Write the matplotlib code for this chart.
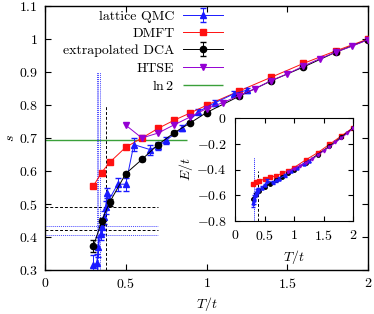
import numpy as np
import matplotlib
matplotlib.use("Agg")
import matplotlib.pyplot as plt
from matplotlib.ticker import FuncFormatter, FixedLocator

plt.rcParams['font.family'] = 'serif'
plt.rcParams['font.serif'] = ['cmr10', 'DejaVu Serif']
plt.rcParams['mathtext.fontset'] = 'cm'
plt.rcParams['axes.formatter.use_mathtext'] = True
plt.rcParams['font.size'] = 10

# ---------------- data (main panel: entropy s vs T/t) ----------------
qmc_T = [0.30, 0.32, 0.33, 0.345, 0.35, 0.365, 0.375, 0.385, 0.395, 0.45, 0.50,
         0.55, 0.65, 0.70, 0.75, 0.85, 0.95, 1.05, 1.17, 1.25]
qmc_s = [0.315, 0.32, 0.37, 0.41, 0.43, 0.46, 0.49, 0.533, 0.512, 0.56, 0.56,
         0.68, 0.665, 0.675, 0.693, 0.73, 0.78, 0.806, 0.834, 0.845]
qmc_err = [0.03, 0.03, 0.03, 0.02, 0.02, 0.02, 0.02, 0.015, 0.015, 0.02, 0.02,
           0.02, 0.015, 0.012, 0.01, 0.008, 0.008, 0.008, 0.008, 0.008]

dmft_T = [0.3, 0.35, 0.4, 0.5, 0.6, 0.7, 0.8, 0.9, 1.0, 1.2, 1.4, 1.6, 1.8, 2.0]
dmft_s = [0.555, 0.595, 0.626, 0.672, 0.70, 0.729, 0.754, 0.776, 0.799, 0.842,
          0.884, 0.926, 0.964, 1.0]

dca_T = [0.3, 0.35, 0.4, 0.5, 0.6, 0.7, 0.8, 0.9, 1.0, 1.2, 1.4, 1.6, 1.8, 2.0]
dca_s = [0.372, 0.447, 0.505, 0.592, 0.635, 0.68, 0.716, 0.746, 0.777, 0.826,
         0.873, 0.915, 0.96, 0.998]
dca_err = [0.018, 0.01, 0.01, 0.006, 0.005, 0.005, 0.005, 0.005, 0.005, 0.004,
           0.004, 0.004, 0.004, 0.004]

htse_T = [0.5, 0.6, 0.7, 0.8, 0.9, 1.0, 1.1, 1.2, 1.3, 1.4, 1.5, 1.6, 1.7, 1.8, 1.9, 2.0]
htse_s = [0.739, 0.70, 0.715, 0.74, 0.764, 0.789, 0.807, 0.828, 0.849, 0.874,
          0.894, 0.918, 0.94, 0.96, 0.978, 0.998]

ln2_range = [0.0, 0.88]
qmc_TN = [0.323, 0.331, 0.339]       # blue dotted verticals
dca_TN = [0.38]                      # black dashed vertical
qmc_sN = [0.434, 0.405]              # blue dotted horizontals
dca_sN = [0.49, 0.42]                # black dashed horizontals

# ---------------- data (inset: energy E/t vs T/t) ----------------
qmc_E = [-0.66, -0.64, -0.62, -0.60, -0.59, -0.575, -0.565, -0.56, -0.555, -0.54,
         -0.52, -0.49, -0.50, -0.485, -0.47, -0.445, -0.41, -0.385, -0.355, -0.335]
qmc_Eerr = [0.03, 0.03, 0.02, 0.015, 0.01, 0.01, 0.01, 0.01, 0.01, 0.01,
            0.01, 0.02, 0.01, 0.01, 0.01, 0.01, 0.01, 0.005, 0.005, 0.005]
dmft_E = [-0.51, -0.50, -0.49, -0.475, -0.46, -0.448, -0.43, -0.41, -0.385,
          -0.325, -0.27, -0.205, -0.14, -0.075]
dca_E = [-0.63, -0.59, -0.565, -0.535, -0.51, -0.485, -0.46, -0.43, -0.40,
         -0.35, -0.285, -0.22, -0.15, -0.08]
htse_T_in = [0.9, 1.0, 1.1, 1.2, 1.3, 1.4, 1.5, 1.6, 1.7, 1.8, 1.9, 2.0]
htse_E = [-0.42, -0.395, -0.37, -0.35, -0.32, -0.29, -0.255, -0.225, -0.19,
          -0.155, -0.12, -0.08]
qmc_TN_in = [0.326]
dca_TN_in = [0.384]

C_QMC = '#1a1aff'
C_DMFT = '#ff1010'
C_DCA = '#000000'
C_HTSE = '#9400d3'
C_LN2 = '#3aa03a'

fmt = FuncFormatter(lambda v, p: '$%g$' % round(v, 3))

fig = plt.figure(figsize=(3.74, 3.14), dpi=100)
ax = fig.add_axes([45 / 374, 44 / 314, 323 / 374, 264 / 314])

# reference lines
ax.hlines(np.log(2), ln2_range[0], ln2_range[1], color=C_LN2, lw=1.0, label=r'$\ln 2$', zorder=1)
ax.vlines(qmc_TN, 0.3, 0.9, color=C_QMC, lw=0.7, ls=(0, (1, 1)), alpha=0.8, zorder=1)
ax.vlines(dca_TN, 0.3, 0.8, color='k', lw=0.7, ls=(0, (3, 2)), zorder=1)
ax.hlines(qmc_sN, 0.0, 0.7, color=C_QMC, lw=0.7, ls=(0, (1, 1)), alpha=0.8, zorder=1)
ax.hlines(dca_sN, 0.0, 0.7, color='k', lw=0.7, ls=(0, (3, 2)), zorder=1)

h_qmc = ax.errorbar(qmc_T, qmc_s, yerr=qmc_err, color=C_QMC, marker='^', ms=4,
                    lw=0.7, elinewidth=0.7, capsize=2, label='lattice QMC', zorder=3)
h_dmft, = ax.plot(dmft_T, dmft_s, color=C_DMFT, marker='s', ms=4.5, lw=0.7,
                  label='DMFT', zorder=3)
h_dca = ax.errorbar(dca_T, dca_s, yerr=dca_err, color=C_DCA, marker='o', ms=4.5,
                    lw=0.7, elinewidth=0.7, capsize=2, label='extrapolated DCA', zorder=3)
h_htse, = ax.plot(htse_T, htse_s, color=C_HTSE, marker='v', ms=4, lw=0.7,
                  label='HTSE', zorder=4)

ax.set_xlim(0, 2)
ax.set_ylim(0.3, 1.1)
ax.xaxis.set_major_locator(FixedLocator([0, 0.5, 1, 1.5, 2]))
ax.yaxis.set_major_locator(FixedLocator(np.round(np.arange(0.3, 1.11, 0.1), 2)))
ax.xaxis.set_major_formatter(fmt)
ax.yaxis.set_major_formatter(fmt)
ax.tick_params(direction='in', top=True, right=True, length=4, width=0.8, labelsize=10, pad=5)
ax.set_xlabel(r'$T/t$', fontsize=10, labelpad=3)
ax.set_ylabel(r'$s$', fontsize=10, labelpad=1)
for sp in ax.spines.values():
    sp.set_linewidth(1.0)

handles = [h_qmc, h_dmft, h_dca, h_htse, ax.get_legend_handles_labels()[0][0]]
labels = ['lattice QMC', 'DMFT', 'extrapolated DCA', 'HTSE', r'$\ln 2$']
ax.legend(handles, labels, loc='upper right', bbox_to_anchor=((223 - 45) / 323, 0.985),
          markerfirst=False, frameon=False, borderpad=0, borderaxespad=0,
          handlelength=2.9, handletextpad=0.6, labelspacing=0.33, fontsize=10)

# ---------------- inset ----------------
ins = fig.add_axes([235 / 374, 93 / 314, 118 / 374, 103 / 314])
ins.vlines(qmc_TN_in, -0.8, -0.3, color=C_QMC, lw=0.7, ls=(0, (1, 1)), zorder=1)
ins.vlines(dca_TN_in, -0.8, -0.41, color='k', lw=0.7, ls=(0, (3, 2)), zorder=1)
ins.errorbar(qmc_T, qmc_E, yerr=qmc_Eerr, color=C_QMC, marker='^', ms=2.2,
             lw=0.7, elinewidth=0.6, capsize=1.5, zorder=3)
ins.plot(dmft_T, dmft_E, color=C_DMFT, marker='s', ms=2.2, lw=0.7, zorder=2)
ins.plot(dca_T, dca_E, color=C_DCA, marker='o', ms=2.5, lw=0.9, zorder=3)
ins.plot(htse_T_in, htse_E, color=C_HTSE, marker='v', ms=2.0, lw=0.7, zorder=4)
ins.set_xlim(0, 2)
ins.set_ylim(-0.8, 0)
ins.xaxis.set_major_locator(FixedLocator([0, 0.5, 1, 1.5, 2]))
ins.yaxis.set_major_locator(FixedLocator([-0.8, -0.6, -0.4, -0.2, 0]))
ins.xaxis.set_major_formatter(fmt)
ins.yaxis.set_major_formatter(fmt)
ins.tick_params(direction='in', top=True, right=True, length=3.5, width=0.8, labelsize=10, pad=6)
ins.set_xlabel(r'$T/t$', fontsize=10, labelpad=3)
ins.set_ylabel(r'$E/t$', fontsize=10, labelpad=1)

fig.savefig('out.png', dpi=100)
